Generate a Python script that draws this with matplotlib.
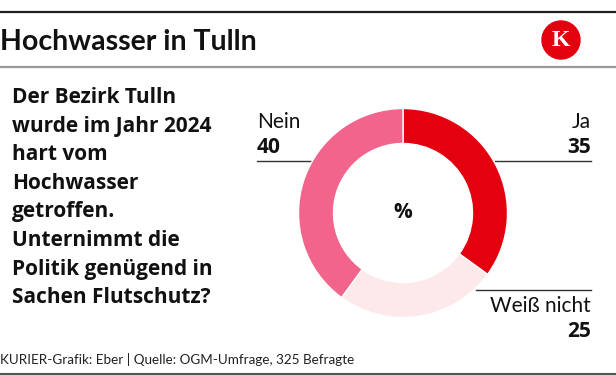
import matplotlib.pyplot as plt
from matplotlib.patches import Circle

plt.rcParams['font.family'] = ['Lato', 'DejaVu Sans']
BOLD = ['Open Sans', 'DejaVu Sans']

title = "Hochwasser in Tulln"
question = ["Der Bezirk Tulln", "wurde im Jahr 2024", "hart vom", "Hochwasser",
            "getroffen.", "Unternimmt die", "Politik genügend in", "Sachen Flutschutz?"]
labels = ["Ja", "Weiß nicht", "Nein"]
values = [35, 25, 40]
colors = ["#e3000f", "#fde8ea", "#f2648c"]
source = "KURIER-Grafik: Eber | Quelle: OGM-Umfrage, 325 Befragte"

W, H = 616, 375
fig = plt.figure(figsize=(W / 100, H / 100), dpi=100)
bg = fig.add_axes([0, 0, 1, 1])
bg.set_xlim(0, W)
bg.set_ylim(H, 0)
bg.axis("off")

# header
bg.plot([0, W], [11.5, 11.5], color="#222222", lw=1.6)
bg.text(0, 50, title, fontsize=20.5, fontweight="bold", va="baseline", ha="left", color="#111111")
bg.add_patch(Circle((561, 40), 19, color="#e3000f"))
bg.text(561, 41, "K", family="Liberation Serif", fontweight="bold", fontsize=17,
        color="white", ha="center", va="center")
bg.plot([0, W], [67, 67], color="#999999", lw=1.6)

# question
for i, line in enumerate(question):
    bg.text(12, 103 + i * 28.6, line, family=BOLD, fontsize=15, fontweight="bold",
            color="#111111", ha="left", va="baseline")

# footer
bg.text(0, 364, source, fontsize=9.7, color="#222222", va="baseline", ha="left")
bg.plot([0, W], [374, 374], color="#555555", lw=1.5)

# donut
cx, cy, r = 403, 213, 104.5
ax = fig.add_axes([(cx - r) / W, (H - cy - r) / H, 2 * r / W, 2 * r / H])
ax.pie(values, colors=colors, startangle=90, counterclock=False,
       wedgeprops=dict(width=35 / r, edgecolor="white", linewidth=1))
ax.set_xlim(-1, 1)
ax.set_ylim(-1, 1)
ax.text(0, 0, "%", family=BOLD, fontsize=15, fontweight="bold", ha="center", va="center", color="#111111")

# labels
bg.text(257, 128, labels[2], fontsize=15, color="#111111", ha="left", va="baseline")
bg.text(257, 153, str(values[2]), family=BOLD, fontsize=15, fontweight="bold", color="#111111", ha="left", va="baseline")
bg.plot([257, 311], [161, 161], color="#333333", lw=1)

bg.text(591, 128, labels[0], fontsize=15, color="#111111", ha="right", va="baseline")
bg.text(591, 153, str(values[0]), family=BOLD, fontsize=15, fontweight="bold", color="#111111", ha="right", va="baseline")
bg.plot([495, 591], [161, 161], color="#333333", lw=1)

bg.plot([476, 591], [290, 290], color="#333333", lw=1)
bg.text(591, 312, labels[1], fontsize=15, color="#111111", ha="right", va="baseline")
bg.text(591, 337, str(values[1]), family=BOLD, fontsize=15, fontweight="bold", color="#111111", ha="right", va="baseline")

fig.savefig("out.png", dpi=100)
